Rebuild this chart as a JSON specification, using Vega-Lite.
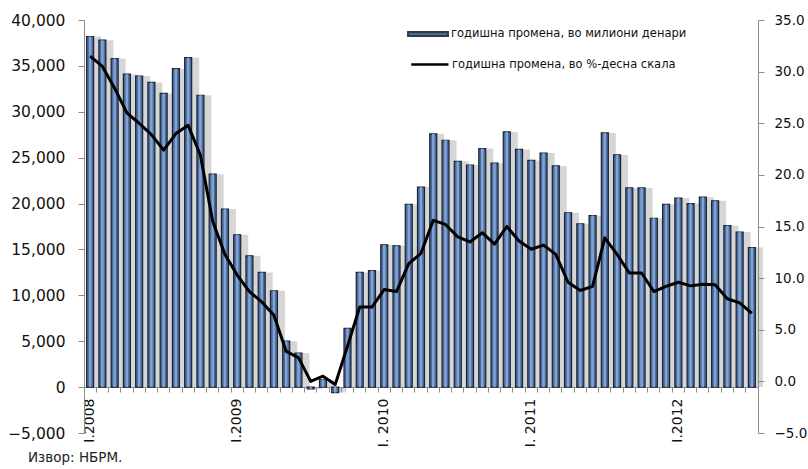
{
  "$schema": "https://vega.github.io/schema/vega-lite/v6.json",
  "width": 674,
  "height": 413,
  "autosize": {"type": "none"},
  "padding": {"left": 84, "top": 20, "right": 50, "bottom": 36},
  "background": "white",
  "config": {"view": {"stroke": null}, "font": "DejaVu Sans", "axis": {"grid": false}},
  "title": {"text": "Извор: НБРМ.", "orient": "bottom", "anchor": "start", "frame": "group", "dx": -56, "offset": 4, "fontSize": 13.5, "fontWeight": "normal", "color": "#222", "font": "DejaVu Sans"},
  "data": {"values": [
    {"month": "2008-01", "mkd": 38200, "pct": 31.5},
    {"month": "2008-02", "mkd": 37800, "pct": 30.5},
    {"month": "2008-03", "mkd": 35800, "pct": 28.4},
    {"month": "2008-04", "mkd": 34100, "pct": 26.0},
    {"month": "2008-05", "mkd": 33900, "pct": 25.0},
    {"month": "2008-06", "mkd": 33200, "pct": 23.9},
    {"month": "2008-07", "mkd": 32000, "pct": 22.4},
    {"month": "2008-08", "mkd": 34700, "pct": 24.0},
    {"month": "2008-09", "mkd": 35900, "pct": 24.8},
    {"month": "2008-10", "mkd": 31800, "pct": 21.9},
    {"month": "2008-11", "mkd": 23200, "pct": 15.5},
    {"month": "2008-12", "mkd": 19400, "pct": 12.3},
    {"month": "2009-01", "mkd": 16600, "pct": 10.3},
    {"month": "2009-02", "mkd": 14300, "pct": 8.7},
    {"month": "2009-03", "mkd": 12500, "pct": 7.7},
    {"month": "2009-04", "mkd": 10500, "pct": 6.4},
    {"month": "2009-05", "mkd": 5000, "pct": 2.9},
    {"month": "2009-06", "mkd": 3700, "pct": 2.3},
    {"month": "2009-07", "mkd": -200, "pct": 0.0},
    {"month": "2009-08", "mkd": 800, "pct": 0.5},
    {"month": "2009-09", "mkd": -600, "pct": -0.3},
    {"month": "2009-10", "mkd": 6400, "pct": 3.4},
    {"month": "2009-11", "mkd": 12500, "pct": 7.2},
    {"month": "2009-12", "mkd": 12700, "pct": 7.2},
    {"month": "2010-01", "mkd": 15500, "pct": 8.9},
    {"month": "2010-02", "mkd": 15400, "pct": 8.7},
    {"month": "2010-03", "mkd": 19900, "pct": 11.4},
    {"month": "2010-04", "mkd": 21800, "pct": 12.4},
    {"month": "2010-05", "mkd": 27600, "pct": 15.6},
    {"month": "2010-06", "mkd": 26900, "pct": 15.2},
    {"month": "2010-07", "mkd": 24600, "pct": 14.0},
    {"month": "2010-08", "mkd": 24200, "pct": 13.5},
    {"month": "2010-09", "mkd": 26000, "pct": 14.4},
    {"month": "2010-10", "mkd": 24400, "pct": 13.3},
    {"month": "2010-11", "mkd": 27800, "pct": 15.0},
    {"month": "2010-12", "mkd": 25900, "pct": 13.6},
    {"month": "2011-01", "mkd": 24700, "pct": 12.8},
    {"month": "2011-02", "mkd": 25500, "pct": 13.2},
    {"month": "2011-03", "mkd": 24100, "pct": 12.3},
    {"month": "2011-04", "mkd": 19000, "pct": 9.6},
    {"month": "2011-05", "mkd": 17800, "pct": 8.8},
    {"month": "2011-06", "mkd": 18700, "pct": 9.2},
    {"month": "2011-07", "mkd": 27700, "pct": 13.9},
    {"month": "2011-08", "mkd": 25300, "pct": 12.3},
    {"month": "2011-09", "mkd": 21700, "pct": 10.5},
    {"month": "2011-10", "mkd": 21700, "pct": 10.5},
    {"month": "2011-11", "mkd": 18400, "pct": 8.7},
    {"month": "2011-12", "mkd": 19900, "pct": 9.2},
    {"month": "2012-01", "mkd": 20600, "pct": 9.6},
    {"month": "2012-02", "mkd": 20000, "pct": 9.25},
    {"month": "2012-03", "mkd": 20700, "pct": 9.4},
    {"month": "2012-04", "mkd": 20300, "pct": 9.35},
    {"month": "2012-05", "mkd": 17600, "pct": 8.0},
    {"month": "2012-06", "mkd": 16900, "pct": 7.6},
    {"month": "2012-07", "mkd": 15200, "pct": 6.6}
  ]},
  "layer": [
    {
      "layer": [
        {
          "mark": {"type": "bar", "size": 10, "xOffset": 6, "color": "#8a8a8a", "opacity": 0.35},
          "encoding": {
            "x": {"field": "month", "type": "ordinal", "scale": {"paddingInner": 0, "paddingOuter": 0},
              "axis": {"title": null, "orient": "bottom", "labelExpr": "datum.value == '2008-01' ? 'I.2008' : datum.value == '2009-01' ? 'I.2009' : datum.value == '2010-01' ? 'I. 2010' : datum.value == '2011-01' ? 'I. 2011' : datum.value == '2012-01' ? 'I.2012' : ''",
                "labelAngle": -90, "ticks": false, "domain": false, "labelPadding": 11, "labelFontSize": 14, "labelOverlap": false, "offset": -46, "labelColor": "#111"}},
            "y": {"field": "mkd", "type": "quantitative", "scale": {"domain": [-5000, 40000], "nice": false},
              "axis": {"title": null, "orient": "left", "values": [-5000, 0, 5000, 10000, 15000, 20000, 25000, 30000, 35000, 40000], "format": ",.0f", "labelFontSize": 15.5, "labelColor": "#111", "domainColor": "#8c8c8c", "tickColor": "#8c8c8c", "tickSize": 6, "labelPadding": 13}}
          }
        },
        {
          "mark": {"type": "bar", "size": 7, "stroke": "#1b2433", "strokeWidth": 1.2},
          "encoding": {
            "x": {"field": "month", "type": "ordinal", "scale": {"paddingInner": 0, "paddingOuter": 0},
              "axis": {"title": null, "orient": "bottom", "labelExpr": "datum.value == '2008-01' ? 'I.2008' : datum.value == '2009-01' ? 'I.2009' : datum.value == '2010-01' ? 'I. 2010' : datum.value == '2011-01' ? 'I. 2011' : datum.value == '2012-01' ? 'I.2012' : ''",
                "labelAngle": -90, "ticks": false, "domain": false, "labelPadding": 11, "labelFontSize": 14, "labelOverlap": false, "offset": -46, "labelColor": "#111"}},
            "y": {"field": "mkd", "type": "quantitative", "scale": {"domain": [-5000, 40000], "nice": false},
              "axis": {"title": null, "orient": "left", "values": [-5000, 0, 5000, 10000, 15000, 20000, 25000, 30000, 35000, 40000], "format": ",.0f", "labelFontSize": 15.5, "labelColor": "#111", "domainColor": "#8c8c8c", "tickColor": "#8c8c8c", "tickSize": 6, "labelPadding": 13}},
            "fill": {"datum": "годишна промена, во милиони денари", "type": "nominal",
              "scale": {"domain": ["годишна промена, во милиони денари"], "range": ["#4a6b99"]},
              "legend": {"orient": "none", "legendX": 328, "legendY": -2, "title": null, "symbolSize": 900, "symbolType": "M-1.33,-0.13H1.33V0.13H-1.33Z", "symbolStrokeColor": "#333a45", "symbolStrokeWidth": 2, "labelFontSize": 11.5, "labelOffset": 7, "padding": 0, "labelColor": "#111", "labelLimit": 400}}
          }
        },
        {
          "mark": {"type": "bar", "size": 2.5, "color": "#88aade", "opacity": 0.9},
          "encoding": {
            "x": {"field": "month", "type": "ordinal", "scale": {"paddingInner": 0, "paddingOuter": 0},
              "axis": {"title": null, "orient": "bottom", "labelExpr": "datum.value == '2008-01' ? 'I.2008' : datum.value == '2009-01' ? 'I.2009' : datum.value == '2010-01' ? 'I. 2010' : datum.value == '2011-01' ? 'I. 2011' : datum.value == '2012-01' ? 'I.2012' : ''",
                "labelAngle": -90, "ticks": false, "domain": false, "labelPadding": 11, "labelFontSize": 14, "labelOverlap": false, "offset": -46, "labelColor": "#111"}},
            "y": {"field": "mkd", "type": "quantitative", "scale": {"domain": [-5000, 40000], "nice": false},
              "axis": {"title": null, "orient": "left", "values": [-5000, 0, 5000, 10000, 15000, 20000, 25000, 30000, 35000, 40000], "format": ",.0f", "labelFontSize": 15.5, "labelColor": "#111", "domainColor": "#8c8c8c", "tickColor": "#8c8c8c", "tickSize": 6, "labelPadding": 13}}
          }
        }
      ]
    },
    {
      "mark": {"type": "line", "strokeWidth": 3, "strokeJoin": "round"},
      "encoding": {
        "x": {"field": "month", "type": "ordinal", "scale": {"paddingInner": 0, "paddingOuter": 0},
          "axis": {"title": null, "orient": "bottom", "labels": false, "ticks": true, "tickSize": 5, "bandPosition": 0, "domainColor": "#8c8c8c", "tickColor": "#8c8c8c", "offset": -46}},
        "y": {"field": "pct", "type": "quantitative", "scale": {"domain": [-5, 35], "nice": false},
          "axis": {"orient": "right", "title": null, "values": [-5, 0, 5, 10, 15, 20, 25, 30, 35], "format": ".1f", "labelFontSize": 13.5, "labelColor": "#111", "domainColor": "#8c8c8c", "tickColor": "#8c8c8c", "tickSize": 6, "labelPadding": 10}},
        "stroke": {"datum": "годишна промена, во %-десна скала", "type": "nominal",
          "scale": {"domain": ["годишна промена, во %-десна скала"], "range": ["#000000"]},
          "legend": {"orient": "none", "legendX": 328, "legendY": 28, "title": null, "symbolSize": 900, "symbolType": "M-1.15,0H1.33", "symbolStrokeWidth": 2.5, "labelFontSize": 11.5, "labelOffset": 7, "padding": 0, "labelColor": "#111", "labelLimit": 400}}
      }
    }
  ],
  "resolve": {"scale": {"y": "independent"}, "axis": {"x": "independent"}}
}
